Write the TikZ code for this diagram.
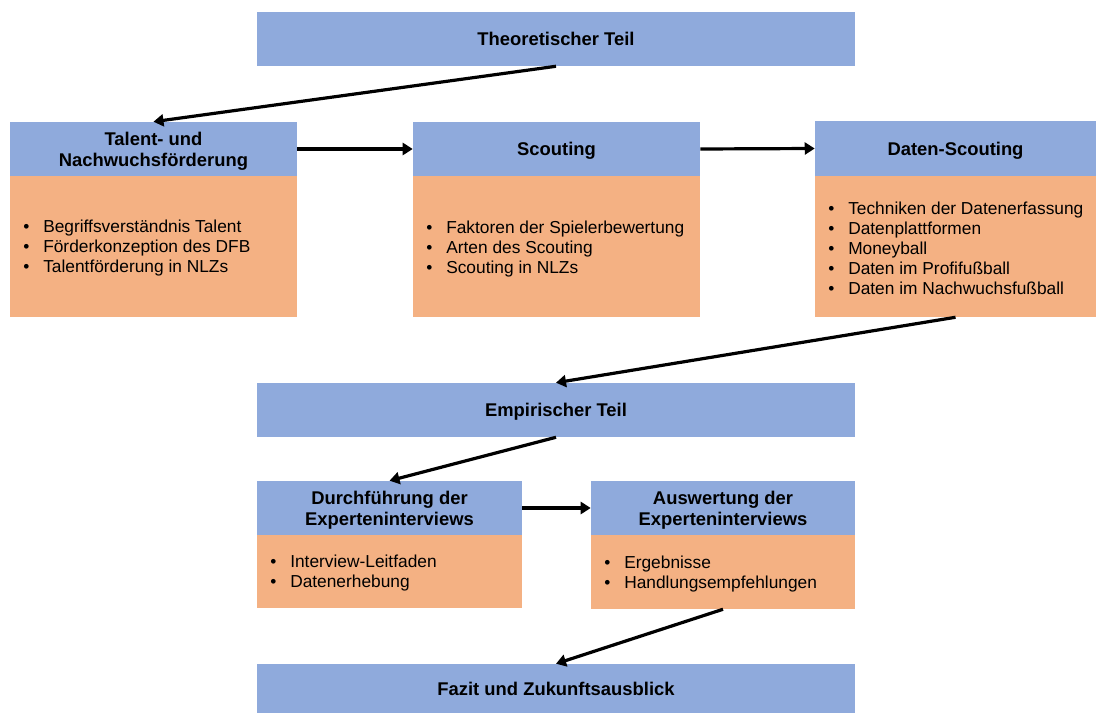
\documentclass[tikz,border=0pt]{standalone}
\usepackage{fontspec}
\setmainfont{Liberation Sans}
\usetikzlibrary{arrows.meta}
\definecolor{hdblue}{HTML}{8FAADC}
\definecolor{bodyor}{HTML}{F4B183}
\tikzset{
  hd/.style={fill=hdblue, draw=none, inner sep=0pt, align=center, text depth=0pt,
    font=\bfseries\fontsize{13.8}{15.75}\selectfont},
  bd/.style={fill=bodyor, draw=none, inner sep=0pt},
  lst/.style={inner sep=0pt, anchor=west, align=left,
    font=\fontsize{13}{15}\selectfont},
  arr/.style={line width=2.4pt, -{Triangle[length=7.5pt,width=9pt]}}
}
\newcommand{\bul}[1]{\makebox[15pt][l]{\textbullet}#1}
\begin{document}
\begin{tikzpicture}[x=0.75pt,y=-0.75pt]
\useasboundingbox (0,0) rectangle (1096,713);
% Theoretischer Teil
\node[hd, minimum width=448.5pt, minimum height=40.5pt] (theo) at (556,39) {Theoretischer Teil};
% Talent
\node[hd, minimum width=215.25pt, minimum height=40.5pt] (talentT) at (153.5,149) {Talent- und\\Nachwuchsförderung};
\node[bd, minimum width=215.25pt, minimum height=105.75pt] (talentB) at (153.5,246.5) {};
\node[lst] (talentL) at (23,248.5) {\bul{Begriffsverständnis Talent}\\\bul{Förderkonzeption des DFB}\\\bul{Talentförderung in NLZs}};
% Scouting
\node[hd, minimum width=215.25pt, minimum height=40.5pt] (scoutT) at (556.5,149) {Scouting};
\node[bd, minimum width=215.25pt, minimum height=105.75pt] (scoutB) at (556.5,246.5) {};
\node[lst] (scoutL) at (426,249.5) {\bul{Faktoren der Spielerbewertung}\\\bul{Arten des Scouting}\\\bul{Scouting in NLZs}};
% Daten-Scouting
\node[hd, minimum width=210.75pt, minimum height=41.25pt] (datenT) at (955.5,148.5) {Daten-Scouting};
\node[bd, minimum width=210.75pt, minimum height=105.75pt] (datenB) at (955.5,246.5) {};
\node[lst] (datenL) at (828,248) {\bul{Techniken der Datenerfassung}\\\bul{Datenplattformen}\\\bul{Moneyball}\\\bul{Daten im Profifußball}\\\bul{Daten im Nachwuchsfußball}};
% Empirischer Teil
\node[hd, minimum width=448.5pt, minimum height=40.5pt] (emp) at (556,410) {Empirischer Teil};
% Durchfuehrung
\node[hd, minimum width=198.75pt, minimum height=40.5pt] (durchT) at (389.5,508) {Durchführung der\\Experteninterviews};
\node[bd, minimum width=198.75pt, minimum height=54.75pt] (durchB) at (389.5,571.5) {};
\node[lst] (durchL) at (270,573.5) {\bul{Interview-Leitfaden}\\\bul{Datenerhebung}};
% Auswertung
\node[hd, minimum width=198pt, minimum height=40.5pt] (auswT) at (723,508) {Auswertung der\\Experteninterviews};
\node[bd, minimum width=198pt, minimum height=55.5pt] (auswB) at (723,572) {};
\node[lst] (auswL) at (604,574.5) {\bul{Ergebnisse}\\\bul{Handlungsempfehlungen}};
% Fazit
\node[hd, minimum width=448.5pt, minimum height=36.75pt] (fazit) at (556,688.5) {Fazit und Zukunftsausblick};
% Arrows
\draw[arr] (theo.south) -- (talentT.north);
\draw[arr] (talentT.east) -- (scoutT.west);
\draw[arr] (scoutT.east) -- (datenT.west);
\draw[arr] (datenB.south) -- (emp.north);
\draw[arr] (emp.south) -- (durchT.north);
\draw[arr] (durchT.east) -- (auswT.west);
\draw[arr] (auswB.south) -- (fazit.north);
\end{tikzpicture}
\end{document}
